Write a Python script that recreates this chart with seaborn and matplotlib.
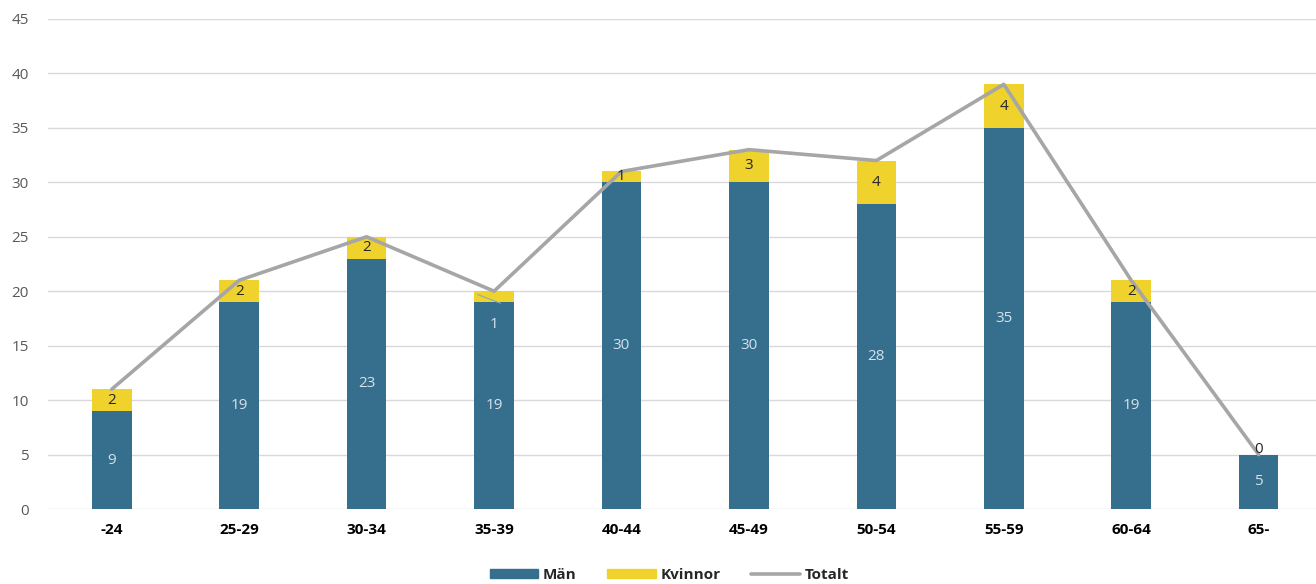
import numpy as np
import pandas as pd
import matplotlib.pyplot as plt
import seaborn as sns
from matplotlib.patches import Patch
from matplotlib.lines import Line2D

# data
age_groups = ['-24', '25-29', '30-34', '35-39', '40-44', '45-49', '50-54', '55-59', '60-64', '65-']
man = [9, 19, 23, 19, 30, 30, 28, 35, 19, 5]
kvinnor = [2, 2, 2, 1, 1, 3, 4, 4, 2, 0]
totalt = [m + k for m, k in zip(man, kvinnor)]

blue = '#356F8D'
yellow = '#EFD22B'
grey = '#A6A6A6'

sns.set_style('white')
plt.rcParams['font.family'] = ['Open Sans', 'DejaVu Sans']

fig = plt.figure(figsize=(13.16, 5.84), dpi=100)
ax = fig.add_axes([0.0365, 0.1284, 0.9635, 0.8391])

df = pd.DataFrame({'grupp': age_groups, 'man': man, 'kvinnor': kvinnor})
sns.barplot(data=df, x='grupp', y='man', color=blue, width=0.31, saturation=1,
            linewidth=0, edgecolor='none', ax=ax, zorder=2)
sns.barplot(data=df, x='grupp', y='kvinnor', color=yellow, width=0.31, saturation=1,
            linewidth=0, edgecolor='none', bottom=df['man'], ax=ax, zorder=2)
sns.lineplot(x=np.arange(len(age_groups)), y=totalt, color=grey, linewidth=2.6, ax=ax, zorder=3)

# data labels
fs = 11
for i, (m, k) in enumerate(zip(man, kvinnor)):
    ax.text(i, m / 2, str(m), ha='center', va='center', color='#D6E2EA', fontsize=fs, zorder=4)
    if age_groups[i] == '35-39':
        # label moved down into the blue part, with a leader line
        ax.text(i, 16.9, str(k), ha='center', va='center', color='#D6E2EA', fontsize=fs, zorder=4)
        ax.plot([i - 0.13, i + 0.05], [19.7, 18.9], color='#8FA9B8', lw=0.8, zorder=4)
    elif k == 0:
        ax.text(i, m + 0.5, str(k), ha='center', va='center', color='#262626', fontsize=fs, zorder=4)
    else:
        ax.text(i, m + k / 2, str(k), ha='center', va='center', color='#262626', fontsize=fs, zorder=4)

ax.set_ylim(0, 45)
ax.set_xlim(-0.5, 9.45)
ax.set_yticks(range(0, 46, 5))
ax.yaxis.grid(True, color='#D9D9D9', linewidth=1)
ax.set_axisbelow(True)
ax.set_xlabel('')
ax.set_ylabel('')
for s in ax.spines.values():
    s.set_visible(False)
ax.tick_params(axis='y', colors='#595959', labelsize=fs, length=0, pad=14)
ax.tick_params(axis='x', colors='black', labelsize=fs, length=0, pad=10)
for lbl in ax.get_xticklabels():
    lbl.set_fontweight('bold')

handles = [Patch(color=blue, label='Män'), Patch(color=yellow, label='Kvinnor'),
           Line2D([], [], color=grey, lw=2.6, label='Totalt')]
leg = ax.legend(handles=handles, loc='center', bbox_to_anchor=(0.49, -0.134), ncol=3,
                frameon=False, handlelength=3.2, handleheight=0.55, columnspacing=2.0,
                handletextpad=0.3, prop={'weight': 'bold', 'size': fs})

fig.savefig('out.png', dpi=100)
